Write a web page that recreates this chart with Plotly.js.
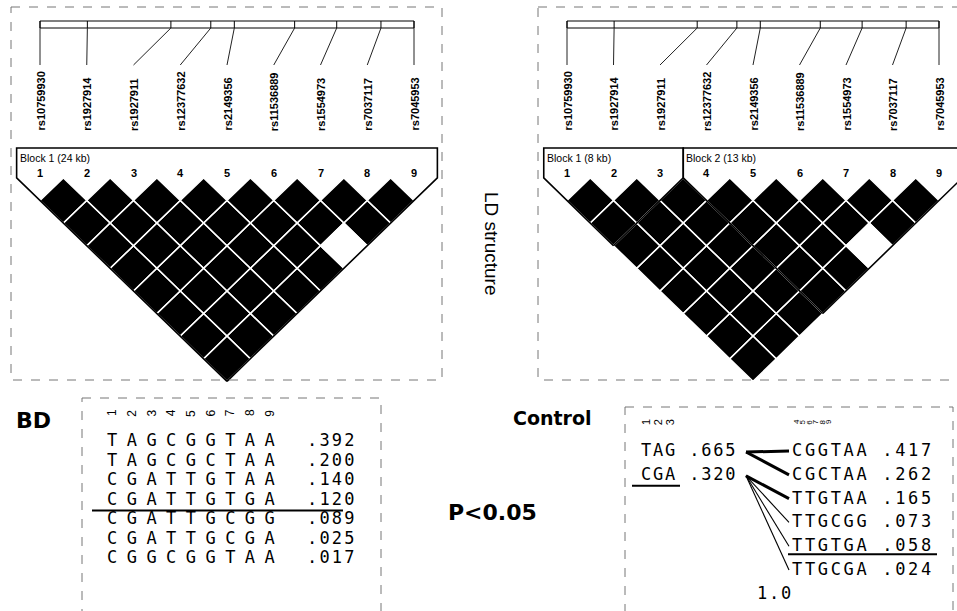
<!DOCTYPE html>
<html>
<head>
<meta charset="utf-8">
<script src="https://cdn.plot.ly/plotly-3.0.1.min.js"></script>
<style>html,body{margin:0;padding:0;background:#fff;}#chart{width:957px;height:611px;}</style>
</head>
<body>
<div id="chart"></div>
<script>
// ================= DATA =================
const snpIds = ["rs10759930","rs1927914","rs1927911","rs12377632","rs2149356","rs11536889","rs1554973","rs7037117","rs7045953"];
const snpNumbers = ["1","2","3","4","5","6","7","8","9"];
const snpPosKb = [0, 3.04, 8.40, 10.96, 12.47, 16.34, 19.04, 21.88, 24.0];

// D' for each pair (row i = marker i with markers i+1..9)
const dprimeBD = [
  [1,1,1,1,1,1,1,1],
  [1,1,1,1,1,1,1],
  [1,1,1,1,1,1],
  [1,1,1,1,1],
  [1,1,1,1],
  [1,1,0.35],
  [1,1],
  [1]
];
const dprimeControl = [
  [1,1,1,1,1,1,1,1],
  [1,1,1,1,1,1,1],
  [1,1,1,1,1,1],
  [1,1,1,1,1],
  [1,1,1,1],
  [1,1,0.35],
  [1,1],
  [1]
];
const blocksBD = [[1,9]];
const blocksControl = [[1,3],[4,9]];

const bdHaplotypes = ["TAGCGGTAA","TAGCGCTAA","CGATTGTAA","CGATTGTGA","CGATTGCGG","CGATTGCGA","CGGCGGTAA"];
const bdFreqs = [0.392, 0.200, 0.140, 0.120, 0.089, 0.025, 0.017];
const bdHighlight = 3;

const ctrlBlock1Haps = ["TAG","CGA"];
const ctrlBlock1Freqs = [0.665, 0.320];
const ctrlBlock1Highlight = 1;
const ctrlBlock2Haps = ["CGGTAA","CGCTAA","TTGTAA","TTGCGG","TTGTGA","TTGCGA"];
const ctrlBlock2Freqs = [0.417, 0.262, 0.165, 0.073, 0.058, 0.024];
const ctrlBlock2Highlight = 4;
// [from block1 haplotype, to block2 haplotype, frequency]
const ctrlCrossings = [[0,0,0.417],[0,1,0.262],[1,2,0.165],[1,3,0.073],[1,4,0.058],[1,5,0.024]];
const ctrlMultiDprime = "1.0";

const groupLabels = ["BD","Control"];
const pLabel = "P<0.05";
const ldLabel = "LD structure";

// ================= LAYOUT / DRAW =================
const traces = [], shapes = [], annots = [], spacing = [];
const SANS = "Liberation Sans, Arial, sans-serif";
const MONO = "DejaVu Sans Mono, monospace";
function txt(o, ls){
  annots.push(Object.assign({xref:'x', yref:'y', showarrow:false, borderpad:0, borderwidth:0}, o));
  spacing.push(ls || 0);
}
function fmt(f){ return f.toFixed(3).replace(/^0/, ''); }

const panels = [
  {x1:40, step:46.75, dprime:dprimeBD, blocks:blocksBD, frame:[11,7,442,380]},
  {x1:567, step:46.5, dprime:dprimeControl, blocks:blocksControl, frame:[538,7,962,380]}
];
const rowY0 = 200.5, halfH = 22.6;
const barTop = 21, barBot = 28, connEnd = 65, labelBottom = 131, numY = 173, blockTop = 148, blockLabelY = 158;

panels.forEach(p => {
  const n = snpIds.length;
  const X = i => p.x1 + i * p.step;
  const span = snpPosKb[n-1] - snpPosKb[0];
  const PX = i => X(0) + (snpPosKb[i] - snpPosKb[0]) / span * (X(n-1) - X(0));
  const hw = p.step / 2;

  shapes.push({type:'rect', xref:'x', yref:'y', x0:p.frame[0], y0:p.frame[1], x1:p.frame[2], y1:p.frame[3],
    line:{color:'#777', width:1, dash:'dash'}});

  // diamonds
  const dark = {x:[], y:[]}, light = {x:[], y:[]};
  for (let i = 0; i < n-1; i++) for (let j = i+1; j < n; j++) {
    const d = p.dprime[i][j-i-1];
    const cx = (X(i) + X(j)) / 2, cy = rowY0 + (j-i-1) * halfH;
    const t = d >= 0.9 ? dark : light;
    t.x.push(cx, cx+hw, cx, cx-hw, cx, null);
    t.y.push(cy-halfH, cy, cy+halfH, cy, cy-halfH, null);
  }
  traces.push({type:'scatter', mode:'lines', x:dark.x, y:dark.y, fill:'toself', fillcolor:'#000',
    line:{color:'#fff', width:1.4}, hoverinfo:'skip'});
  traces.push({type:'scatter', mode:'lines', x:light.x, y:light.y, fill:'toself', fillcolor:'#fff',
    line:{color:'#fff', width:1.4}, hoverinfo:'skip'});

  // block outlines
  const bx = [], by = [];
  p.blocks.forEach(b => {
    const a = b[0]-1, e = b[1]-1;
    const xL = X(a) - hw, xR = X(e) + hw, yv = rowY0 - halfH;
    const cx = (X(a) + X(e)) / 2, cyB = rowY0 + (e - a) * halfH;
    bx.push(cx, xL, xL, xR, xR, cx, null);
    by.push(cyB, yv, blockTop, blockTop, yv, cyB, null);
    const kb = Math.round(snpPosKb[e] - snpPosKb[a]);
    txt({x:xL+3, y:blockLabelY, xanchor:'left', yanchor:'middle', text:'Block ' + (p.blocks.indexOf(b)+1) + ' (' + kb + ' kb)',
      font:{family:SANS, size:10.5, color:'#000'}});
  });
  traces.push({type:'scatter', mode:'lines', x:bx, y:by, line:{color:'#000', width:1.6}, hoverinfo:'skip'});

  // gene bar, ticks, connectors
  const gx = [PX(0), PX(n-1), PX(n-1), PX(0), PX(0), null], gy = [barTop, barTop, barBot, barBot, barTop, null];
  for (let i = 0; i < n; i++) { gx.push(PX(i), PX(i), null); gy.push(barTop, barBot, null); }
  traces.push({type:'scatter', mode:'lines', x:gx, y:gy, line:{color:'#000', width:1}, hoverinfo:'skip'});
  const cxs = [], cys = [];
  for (let i = 0; i < n; i++) { cxs.push(PX(i), X(i), null); cys.push(barBot, connEnd, null); }
  traces.push({type:'scatter', mode:'lines', x:cxs, y:cys, line:{color:'#222', width:1}, hoverinfo:'skip'});

  for (let i = 0; i < n; i++) {
    txt({x:X(i), y:labelBottom, xanchor:'center', yanchor:'bottom', textangle:-90, text:'<b>' + snpIds[i] + '</b>',
      font:{family:SANS, size:11, color:'#000'}});
    txt({x:X(i), y:numY, xanchor:'center', yanchor:'middle', text:'<b>' + snpNumbers[i] + '</b>',
      font:{family:SANS, size:11, color:'#000'}});
  }
});

txt({x:492, y:243, xanchor:'center', yanchor:'middle', textangle:90, text:ldLabel, font:{family:SANS, size:19, color:'#000'}});

// ---------- BD haplotypes ----------
txt({x:33, y:420, xanchor:'center', yanchor:'middle', text:'<b>' + groupLabels[0] + '</b>', font:{family:'DejaVu Sans, sans-serif', size:22, color:'#000'}});
shapes.push({type:'rect', xref:'x', yref:'y', x0:82, y0:398, x1:381, y1:650, line:{color:'#777', width:1, dash:'dash'}});
const bdLeft = 107, bdPitch = 19.7, bdRow0 = 440, bdRowStep = 19.5, monoW = 10.24;
for (let k = 0; k < bdHaplotypes[0].length; k++) {
  txt({x:bdLeft + monoW/2 + k*bdPitch, y:413, xanchor:'center', yanchor:'middle', textangle:-90, text:snpNumbers[k],
    font:{family:SANS, size:12, color:'#000'}});
}
bdHaplotypes.forEach((h, r) => {
  const y = bdRow0 + r * bdRowStep;
  txt({x:bdLeft, y:y, xanchor:'left', yanchor:'middle', align:'left', text:h, font:{family:MONO, size:17, color:'#000'}}, bdPitch - monoW);
  txt({x:307, y:y, xanchor:'left', yanchor:'middle', align:'left', text:fmt(bdFreqs[r]), font:{family:MONO, size:17, color:'#000'}}, 12.4 - monoW);
});
shapes.push({type:'line', xref:'x', yref:'y', x0:92, x1:343, y0:bdRow0 + bdHighlight*bdRowStep + 12, y1:bdRow0 + bdHighlight*bdRowStep + 12,
  line:{color:'#000', width:2}});

txt({x:492, y:512, xanchor:'center', yanchor:'middle', text:'<b>' + pLabel + '</b>', font:{family:'DejaVu Sans, sans-serif', size:22, color:'#000'}});

// ---------- Control haplotypes ----------
txt({x:552, y:418, xanchor:'center', yanchor:'middle', text:'<b>' + groupLabels[1] + '</b>', font:{family:'DejaVu Sans, sans-serif', size:19, color:'#000'}});
shapes.push({type:'rect', xref:'x', yref:'y', x0:625, y0:407, x1:953, y1:650, line:{color:'#777', width:1, dash:'dash'}});
const c1Left = 641, c1Pitch = 12.04, c2Left = 792, c2Pitch = 12.9, cRow0 = 450, cRowStep = 23.8;
for (let k = 0; k < ctrlBlock1Haps[0].length; k++) {
  txt({x:c1Left + monoW/2 + k*c1Pitch, y:422, xanchor:'center', yanchor:'middle', textangle:-90, text:snpNumbers[k],
    font:{family:SANS, size:11, color:'#000'}});
}
for (let k = 0; k < ctrlBlock2Haps[0].length; k++) {
  txt({x:796 + k*6.4, y:422, xanchor:'center', yanchor:'middle', textangle:-90, text:snpNumbers[ctrlBlock1Haps[0].length + k],
    font:{family:SANS, size:8, color:'#000'}});
}
ctrlBlock1Haps.forEach((h, r) => {
  txt({x:c1Left, y:cRow0 + r*cRowStep, xanchor:'left', yanchor:'middle', align:'left', text:h + ' ' + fmt(ctrlBlock1Freqs[r]),
    font:{family:MONO, size:17, color:'#000'}}, c1Pitch - monoW);
});
ctrlBlock2Haps.forEach((h, r) => {
  txt({x:c2Left, y:cRow0 + r*cRowStep, xanchor:'left', yanchor:'middle', align:'left', text:h + ' ' + fmt(ctrlBlock2Freqs[r]),
    font:{family:MONO, size:17, color:'#000'}}, c2Pitch - monoW);
});
txt({x:757, y:cRow0 + ctrlBlock2Haps.length*cRowStep, xanchor:'left', yanchor:'middle', align:'left', text:ctrlMultiDprime,
  font:{family:MONO, size:17, color:'#000'}}, c1Pitch - monoW);
shapes.push({type:'line', xref:'x', yref:'y', x0:632, x1:680, y0:cRow0 + ctrlBlock1Highlight*cRowStep + 12, y1:cRow0 + ctrlBlock1Highlight*cRowStep + 12,
  line:{color:'#000', width:2}});
shapes.push({type:'line', xref:'x', yref:'y', x0:788, x1:937, y0:cRow0 + ctrlBlock2Highlight*cRowStep + 9, y1:cRow0 + ctrlBlock2Highlight*cRowStep + 9,
  line:{color:'#000', width:2}});
const thickX = [], thickY = [], thinX = [], thinY = [];
ctrlCrossings.forEach(c => {
  const t = c[2] >= 0.10 ? [thickX, thickY] : [thinX, thinY];
  t[0].push(746, 789, null);
  t[1].push(cRow0 + c[0]*cRowStep + 2, cRow0 + c[1]*cRowStep + 1, null);
});
traces.push({type:'scatter', mode:'lines', x:thickX, y:thickY, line:{color:'#000', width:3}, hoverinfo:'skip'});
traces.push({type:'scatter', mode:'lines', x:thinX, y:thinY, line:{color:'#000', width:1.1}, hoverinfo:'skip'});

const layout = {
  width:957, height:611, margin:{l:0, r:0, t:0, b:0}, paper_bgcolor:'#fff', plot_bgcolor:'#fff',
  showlegend:false, hovermode:false,
  xaxis:{range:[0,957], visible:false, fixedrange:true},
  yaxis:{range:[611,0], visible:false, fixedrange:true},
  shapes:shapes, annotations:annots
};
Plotly.newPlot('chart', traces, layout, {displayModeBar:false, staticPlot:true}).then(() => {
  document.querySelectorAll('g.annotation').forEach(g => {
    const i = +g.getAttribute('data-index');
    if (spacing[i]) g.querySelectorAll('text').forEach(t => { t.style.letterSpacing = spacing[i] + 'px'; });
  });
});
</script>
</body>
</html>
